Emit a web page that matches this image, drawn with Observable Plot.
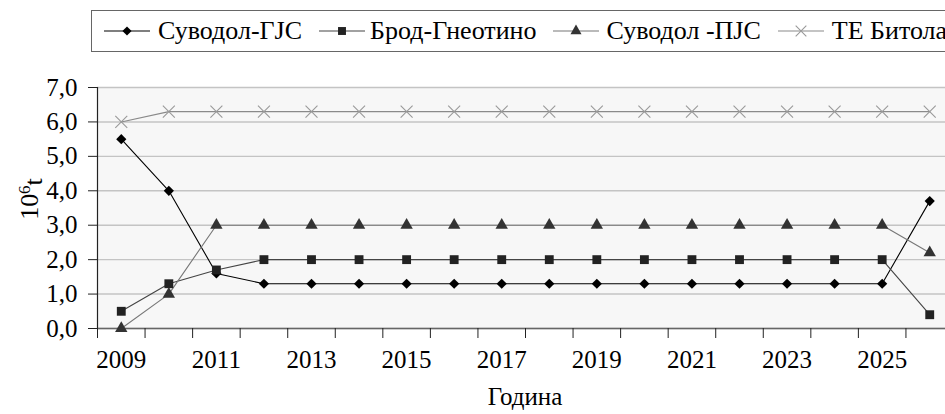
<!DOCTYPE html>
<html>
<head>
<meta charset="utf-8">
<script src="https://cdn.jsdelivr.net/npm/d3@7"></script>
<script src="https://cdn.jsdelivr.net/npm/@observablehq/plot@0.6"></script>
<style>
  html, body { margin: 0; padding: 0; background: #fff; overflow: hidden; width: 945px; height: 414px; }
  body { position: relative; font-family: 'Liberation Serif'; }
  #legend { position: absolute; left: 91px; top: 10px; width: 900px; height: 42px; border: 1.5px solid #666; box-sizing: border-box; display: flex; align-items: center; padding-left: 12px; white-space: nowrap; font-size: 26px; color: #000; font-family: 'Liberation Serif'; }
  #legend .item { display: flex; align-items: center; }
  #legend svg { display: block; }
  #chart { position: absolute; left: 0; top: 58px; }
  #chart svg { max-width: none !important; overflow: visible; }
  #chart svg, #chart svg text, #chart svg g { font-family: 'Liberation Serif' !important; }
</style>
</head>
<body>
<div id="legend"></div>
<div id="chart"></div>
<script>
const years = [2009,2010,2011,2012,2013,2014,2015,2016,2017,2018,2019,2020,2021,2022,2023,2024,2025,2026];
const suvodolGJS = [5.5,4.0,1.6,1.3,1.3,1.3,1.3,1.3,1.3,1.3,1.3,1.3,1.3,1.3,1.3,1.3,1.3,3.7];
const brodGneotino = [0.5,1.3,1.7,2.0,2.0,2.0,2.0,2.0,2.0,2.0,2.0,2.0,2.0,2.0,2.0,2.0,2.0,0.4];
const suvodolPJS = [0.0,1.0,3.0,3.0,3.0,3.0,3.0,3.0,3.0,3.0,3.0,3.0,3.0,3.0,3.0,3.0,3.0,2.2];
const teBitola = [6.0,6.3,6.3,6.3,6.3,6.3,6.3,6.3,6.3,6.3,6.3,6.3,6.3,6.3,6.3,6.3,6.3,6.3];
const seriesNames = ["Суводол-ГЈС", "Брод-Гнеотино", "Суводол -ПЈС", "ТЕ Битола"];
const yTicks = [0,1,2,3,4,5,6,7];
const xLabelYears = [2009,2011,2013,2015,2017,2019,2021,2023,2025];
const xTitle = "Година";

const FONT = "Liberation Serif";
const styles = [
  {line: "#000", fill: "#000", stroke: "none", symbol: d3.symbolDiamond2, r: 4.6},
  {line: "#444", fill: "#222", stroke: "none", symbol: d3.symbolSquare, r: 5.0},
  {line: "#777", fill: "#333", stroke: "none", symbol: d3.symbolTriangle, r: 4.6},
  {line: "#8a8a8a", fill: "none", stroke: "#999", symbol: d3.symbolTimes, r: 5.5}
];
const valueSets = [suvodolGJS, brodGneotino, suvodolPJS, teBitola];
const data = [];
valueSets.forEach((vals, si) => vals.forEach((v, i) => data.push({series: seriesNames[si], year: years[i], value: v})));
const boundaries = years.map(y => y - 0.5).concat([years[years.length - 1] + 0.5]);

const marks = [
  Plot.frame({fill: "#f7f7f7", stroke: "none"}),
  Plot.gridY({ticks: yTicks, stroke: "#c4c4c4", strokeOpacity: 1, strokeWidth: 1.4}),
  Plot.ruleY([0], {stroke: "#666", strokeWidth: 1.4}),
  Plot.ruleX([boundaries[0]], {stroke: "#222", strokeWidth: 1.2}),
  Plot.axisY({ticks: yTicks, tickSize: 9, tickPadding: 11, fontSize: 25, fontFamily: FONT, tickFormat: d => d.toFixed(1).replace(".", ","), label: null, stroke: "#222"}),
  Plot.axisX({ticks: boundaries, tickSize: 10, tickFormat: () => "", label: null, stroke: "#222"}),
  Plot.axisX({ticks: xLabelYears, tickSize: 0, tickPadding: 22, fontSize: 25, fontFamily: FONT, tickFormat: d => String(d), label: null})
];
seriesNames.forEach((name, si) => {
  const s = styles[si];
  const rows = data.filter(d => d.series === name);
  marks.push(Plot.line(rows, {x: "year", y: "value", stroke: s.line, strokeWidth: 1.1}));
});
seriesNames.forEach((name, si) => {
  const s = styles[si];
  const rows = data.filter(d => d.series === name);
  marks.push(Plot.dot(rows, {x: "year", y: "value", symbol: () => s.symbol, fill: s.fill, stroke: s.stroke, strokeWidth: 1.1, r: s.r}));
});

const chart = Plot.plot({
  width: 960,
  height: 356,
  marginTop: 29,
  marginBottom: 86,
  marginLeft: 97,
  marginRight: 7,
  style: {fontFamily: FONT, fontSize: "25px", color: "#000", background: "transparent"},
  x: {type: "linear", domain: [boundaries[0], boundaries[boundaries.length - 1]]},
  y: {type: "linear", domain: [0, 7]},
  symbol: {type: "identity"},
  marks
});
document.getElementById("chart").appendChild(chart);

// axis titles
const svg = d3.select(chart);
svg.append("text")
  .attr("x", 525).attr("y", 347)
  .attr("text-anchor", "middle")
  .attr("font-family", FONT).attr("font-size", 25).attr("fill", "#000")
  .text(xTitle);
const yl = svg.append("text")
  .attr("transform", "translate(38,141) rotate(-90)")
  .attr("text-anchor", "middle")
  .attr("font-family", FONT).attr("font-size", 26).attr("fill", "#000");
yl.append("tspan").text("10");
yl.append("tspan").attr("dy", "-0.45em").attr("font-size", 17).text("6");
yl.append("tspan").attr("dy", "0.45em").text("t");

// legend
const legend = d3.select("#legend");
const gaps = [8, 5, 7, 8];
seriesNames.forEach((name, si) => {
  const s = styles[si];
  const item = legend.append("div").attr("class", "item").style("margin-right", si < 3 ? "17px" : "0");
  const sw = item.append("svg").attr("width", 46).attr("height", 20);
  sw.append("line").attr("x1", 0).attr("x2", 46).attr("y1", 10).attr("y2", 10).attr("stroke", s.line).attr("stroke-width", 1.2);
  sw.append("path").attr("transform", "translate(23,10)")
    .attr("d", d3.symbol(s.symbol, Math.PI * s.r * s.r * 0.8)())
    .attr("fill", s.fill).attr("stroke", s.stroke).attr("stroke-width", 1.1);
  item.append("span").style("margin-left", gaps[si] + "px").text(name);
});
</script>
</body>
</html>
